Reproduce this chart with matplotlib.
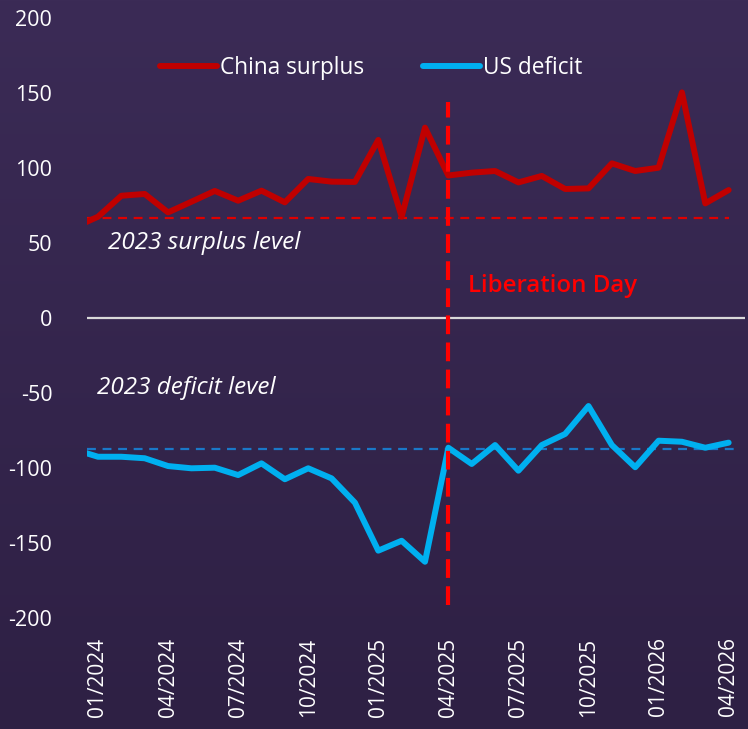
import matplotlib
matplotlib.use("Agg")
import matplotlib.pyplot as plt
import numpy as np

plt.rcParams['font.family'] = ['Open Sans', 'DejaVu Sans']
plt.rcParams['axes.unicode_minus'] = False

# monthly data, 12/2023 .. 04/2026
china_surplus = [60.5, 67.5, 81.5, 82.7, 70.4, 77.5, 84.7, 78.2, 84.9, 77.1, 92.7, 90.9, 90.7,
                 118.7, 67.5, 126.9, 95.0, 96.9, 98.0, 90.4, 94.7, 86.0, 86.4, 103.1, 98.0,
                 100.2, 150.4, 76.4, 85.3]
us_deficit = [-87.7, -92.5, -92.5, -93.5, -98.7, -100.2, -99.8, -104.7, -96.9, -107.5, -100.2,
              -106.9, -123.1, -155.1, -148.5, -162.5, -86.5, -97.3, -84.7, -101.8, -84.7,
              -77.3, -58.7, -84.7, -99.5, -81.8, -82.5, -86.5, -83.1]
surplus_2023 = 67
deficit_2023 = -87.5
tick_labels = ['01/2024', '04/2024', '07/2024', '10/2024', '01/2025',
               '04/2025', '07/2025', '10/2025', '01/2026', '04/2026']
liberation_idx = 15  # 04/2025

x = np.arange(len(china_surplus)) - 1  # 12/2023 -> -1

fig = plt.figure(figsize=(7.48, 7.29), dpi=100)

# gradient background
bg = fig.add_axes([0, 0, 1, 1], zorder=-10)
grad = np.linspace(0, 1, 256).reshape(-1, 1)
top = np.array([0x3b, 0x2b, 0x56]) / 255
bot = np.array([0x2e, 0x20, 0x44]) / 255
img = top + (bot - top) * grad[..., None]
bg.imshow(img, aspect='auto', extent=[0, 1, 0, 1])
bg.axis('off')

ax = fig.add_axes([87 / 748, 111 / 729, 658 / 748, 600 / 729])
ax.set_facecolor('none')

ax.axhline(0, color='#d9d9d9', lw=1.6, zorder=1)
ax.hlines(surplus_2023, -0.47, 27, colors='#e00000', lw=1.6, linestyles=(0, (4, 3)), zorder=2)
ax.hlines(deficit_2023, -0.47, 27.5, colors='#1a78c8', lw=1.6, linestyles=(0, (4, 3)), zorder=2)

ax.plot(x, china_surplus, color='#c00000', lw=4.3, solid_capstyle='round',
        solid_joinstyle='round', label='China surplus', zorder=3)
ax.plot(x, us_deficit, color='#00b0f0', lw=4.3, solid_capstyle='round',
        solid_joinstyle='round', label='US deficit', zorder=3)

ax.vlines(liberation_idx, -191, 144, colors='#ff0000', lw=3, linestyles=(0, (4.5, 2)), zorder=4)
ax.text(liberation_idx + 0.85, 21, 'Liberation Day', color='#ff0000', fontsize=17.3,
        fontweight='semibold', va='center', ha='left')
ax.text(0.45, 50, '2023 surplus level', color='white', fontsize=17.5, style='italic',
        va='center', ha='left')
ax.text(-0.05, -47, '2023 deficit level', color='white', fontsize=17.5, style='italic',
        va='center', ha='left')

ax.set_xlim(-0.47, 27.7)
ax.set_ylim(-200, 200)
ax.set_yticks(np.arange(-200, 201, 50))
ax.set_xticks(np.arange(0, 28, 3))
ax.set_xticklabels(tick_labels, rotation=90)
ax.tick_params(axis='y', length=0, pad=25, labelsize=15.5, labelcolor='white')
ax.tick_params(axis='x', length=0, pad=14, labelsize=15, labelcolor='white')
for s in ax.spines.values():
    s.set_visible(False)

leg = ax.legend(loc='upper center', bbox_to_anchor=(0.432, 0.97), ncol=2, frameon=False,
                fontsize=16.3, handlelength=2.5, handletextpad=0.15, columnspacing=2.6)
for t in leg.get_texts():
    t.set_color('white')

fig.savefig('out.png', dpi=100)
